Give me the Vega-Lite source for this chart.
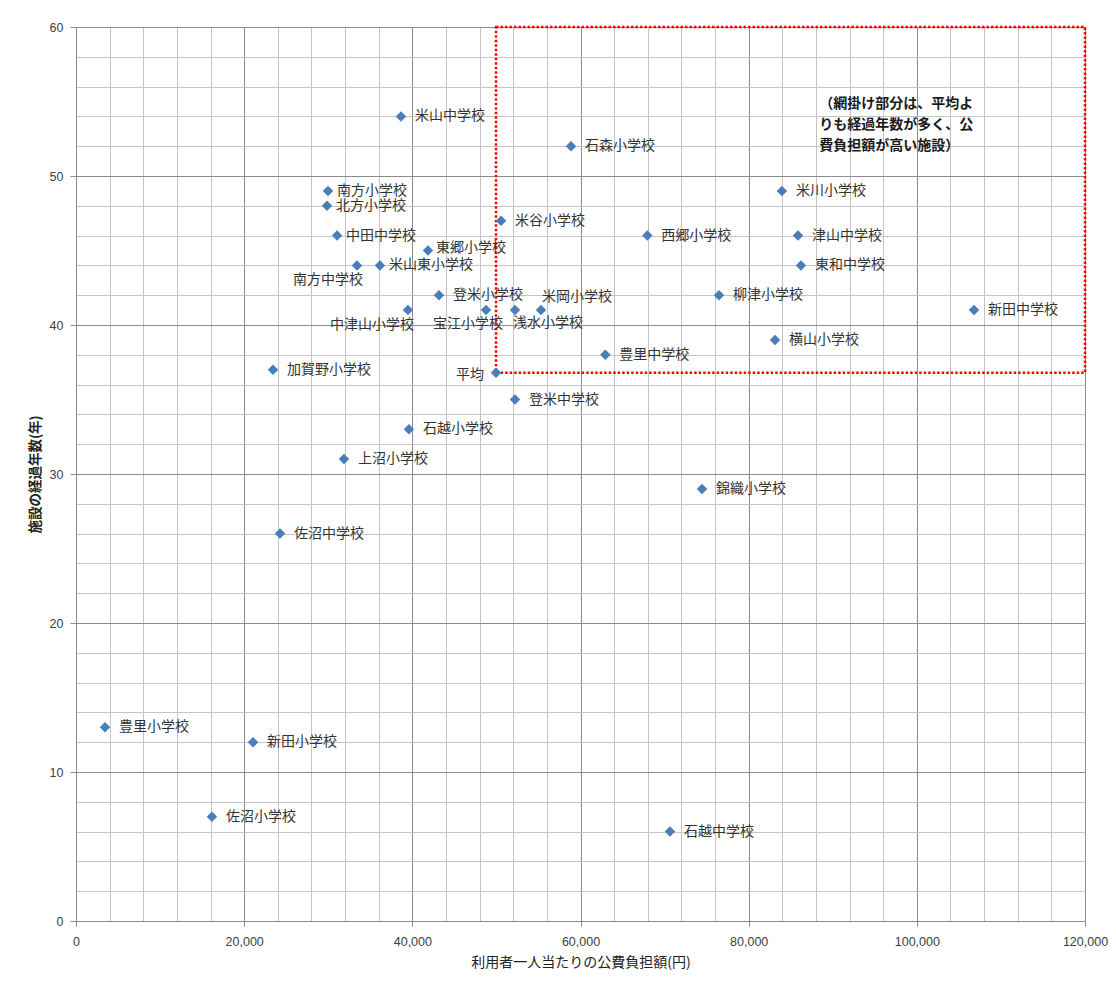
{
  "$schema": "https://vega.github.io/schema/vega-lite/v6.json",
  "width": 1009,
  "height": 894,
  "autosize": {"type": "none"},
  "padding": {"left": 76, "top": 27, "right": 31, "bottom": 64},
  "background": "white",
  "config": {
    "view": {"stroke": null},
    "font": "Noto Sans CJK JP",
    "text": {"font": "Noto Sans CJK JP", "fontSize": 14, "color": "#333333", "baseline": "middle"}
  },
  "datasets": {
    "schools": [
      {"name": "米山中学校", "cost": 38650, "years": 54},
      {"name": "石森小学校", "cost": 58870, "years": 52},
      {"name": "南方小学校", "cost": 29970, "years": 49},
      {"name": "北方小学校", "cost": 29850, "years": 48},
      {"name": "米谷小学校", "cost": 50550, "years": 47},
      {"name": "中田中学校", "cost": 31050, "years": 46},
      {"name": "東郷小学校", "cost": 41860, "years": 45},
      {"name": "南方中学校", "cost": 33420, "years": 44},
      {"name": "米山東小学校", "cost": 36150, "years": 44},
      {"name": "登米小学校", "cost": 43170, "years": 42},
      {"name": "中津山小学校", "cost": 39480, "years": 41},
      {"name": "宝江小学校", "cost": 48760, "years": 41},
      {"name": "浅水小学校", "cost": 52210, "years": 41},
      {"name": "米岡小学校", "cost": 55300, "years": 41},
      {"name": "西郷小学校", "cost": 67950, "years": 46},
      {"name": "米川小学校", "cost": 83950, "years": 49},
      {"name": "津山中学校", "cost": 85870, "years": 46},
      {"name": "東和中学校", "cost": 86220, "years": 44},
      {"name": "柳津小学校", "cost": 76470, "years": 42},
      {"name": "新田中学校", "cost": 106800, "years": 41},
      {"name": "横山小学校", "cost": 83130, "years": 39},
      {"name": "豊里中学校", "cost": 62950, "years": 38},
      {"name": "加賀野小学校", "cost": 23430, "years": 37},
      {"name": "登米中学校", "cost": 52210, "years": 35},
      {"name": "石越小学校", "cost": 39600, "years": 33},
      {"name": "上沼小学校", "cost": 31870, "years": 31},
      {"name": "錦織小学校", "cost": 74450, "years": 29},
      {"name": "佐沼中学校", "cost": 24260, "years": 26},
      {"name": "豊里小学校", "cost": 3450, "years": 13},
      {"name": "新田小学校", "cost": 21050, "years": 12},
      {"name": "佐沼小学校", "cost": 16170, "years": 7},
      {"name": "石越中学校", "cost": 70640, "years": 6},
      {"name": "平均", "cost": 49950, "years": 36.8}
    ],
    "note": [
      {"text": "（網掛け部分は、平均よ\nりも経過年数が多く、公\n費負担額が高い施設）"}
    ]
  },
  "data": {"name": "schools"},
  "resolve": {"axis": {"x": "independent", "y": "independent"}},
  "layer": [
    {
      "transform": [{"filter": "datum.name == '平均'"}],
      "mark": {"type": "rect", "fill": "transparent", "stroke": "#FF0000", "strokeWidth": 2.5, "strokeDash": [2.5, 2]},
      "encoding": {
        "x": {
          "field": "cost", "type": "quantitative",
          "scale": {"domain": [0, 120000], "nice": false, "zero": true},
          "axis": {
            "orient": "bottom",
            "values": [0, 4000, 8000, 12000, 16000, 20000, 24000, 28000, 32000, 36000, 40000, 44000, 48000, 52000, 56000, 60000, 64000, 68000, 72000, 76000, 80000, 84000, 88000, 92000, 96000, 100000, 104000, 108000, 112000, 116000, 120000],
            "grid": true, "gridColor": "#c4c4c4", "gridWidth": 1,
            "labels": false, "ticks": false, "domain": false, "title": null
          }
        },
        "x2": {"datum": 120000},
        "y": {
          "field": "years", "type": "quantitative",
          "scale": {"domain": [0, 60], "nice": false},
          "axis": {
            "orient": "left",
            "values": [0, 2, 4, 6, 8, 10, 12, 14, 16, 18, 20, 22, 24, 26, 28, 30, 32, 34, 36, 38, 40, 42, 44, 46, 48, 50, 52, 54, 56, 58, 60],
            "grid": true, "gridColor": "#c4c4c4", "gridWidth": 1,
            "labels": false, "ticks": false, "domain": false, "title": null
          }
        },
        "y2": {"datum": 60}
      }
    },
    {
      "mark": {"type": "point", "shape": "diamond", "filled": true, "color": "#4A7EBB", "opacity": 1, "size": 110},
      "encoding": {
        "x": {
          "field": "cost", "type": "quantitative",
          "axis": {
            "orient": "bottom",
            "values": [0, 20000, 40000, 60000, 80000, 100000, 120000],
            "labelExpr": "format(datum.value, ',')",
            "grid": true, "gridColor": "#8c8c8c", "gridWidth": 1,
            "domainColor": "#8c8c8c", "tickColor": "#8c8c8c", "tickSize": 5,
            "labelPadding": 9, "labelFlush": false, "labelOverlap": false,
            "labelFont": "Liberation Sans", "labelFontSize": 12.5, "labelColor": "#404040",
            "title": "利用者一人当たりの公費負担額(円)",
            "titleFont": "Noto Sans CJK JP", "titleFontSize": 14, "titleFontWeight": "normal",
            "titleColor": "#222222", "titlePadding": 8
          }
        },
        "y": {
          "field": "years", "type": "quantitative",
          "axis": {
            "orient": "left",
            "values": [0, 10, 20, 30, 40, 50, 60],
            "grid": true, "gridColor": "#8c8c8c", "gridWidth": 1,
            "domainColor": "#8c8c8c", "tickColor": "#8c8c8c", "tickSize": 6,
            "labelPadding": 7, "labelOverlap": false,
            "labelFont": "Liberation Sans", "labelFontSize": 12.5, "labelColor": "#404040",
            "title": "施設の経過年数(年)",
            "titleFont": "Noto Sans CJK JP", "titleFontSize": 13.5, "titleFontWeight": "bold",
            "titleColor": "#222222", "titlePadding": 7
          }
        }
      }
    },
    {
      "transform": [{"filter": {"not": {"field": "name", "oneOf": ["南方小学校", "北方小学校", "中田中学校", "東郷小学校", "米山東小学校", "南方中学校", "中津山小学校", "宝江小学校", "浅水小学校", "米岡小学校", "平均"]}}}],
      "mark": {"type": "text", "align": "left", "dx": 14},
      "encoding": {
        "x": {"field": "cost", "type": "quantitative", "axis": null},
        "y": {"field": "years", "type": "quantitative", "axis": null},
        "text": {"field": "name"}
      }
    },
    {
      "transform": [{"filter": {"field": "name", "oneOf": ["南方小学校", "北方小学校", "中田中学校", "米山東小学校"]}}],
      "mark": {"type": "text", "align": "left", "dx": 9},
      "encoding": {
        "x": {"field": "cost", "type": "quantitative", "axis": null},
        "y": {"field": "years", "type": "quantitative", "axis": null},
        "text": {"field": "name"}
      }
    },
    {
      "transform": [{"filter": "datum.name == '東郷小学校'"}],
      "mark": {"type": "text", "align": "left", "dx": 8, "dy": -3},
      "encoding": {
        "x": {"field": "cost", "type": "quantitative", "axis": null},
        "y": {"field": "years", "type": "quantitative", "axis": null},
        "text": {"field": "name"}
      }
    },
    {
      "transform": [{"filter": {"field": "name", "oneOf": ["南方中学校", "中津山小学校"]}}],
      "mark": {"type": "text", "align": "right", "dx": 6, "dy": 15},
      "encoding": {
        "x": {"field": "cost", "type": "quantitative", "axis": null},
        "y": {"field": "years", "type": "quantitative", "axis": null},
        "text": {"field": "name"}
      }
    },
    {
      "transform": [{"filter": "datum.name == '宝江小学校'"}],
      "mark": {"type": "text", "align": "center", "dx": -18, "dy": 14},
      "encoding": {
        "x": {"field": "cost", "type": "quantitative", "axis": null},
        "y": {"field": "years", "type": "quantitative", "axis": null},
        "text": {"field": "name"}
      }
    },
    {
      "transform": [{"filter": "datum.name == '浅水小学校'"}],
      "mark": {"type": "text", "align": "center", "dx": 33, "dy": 13},
      "encoding": {
        "x": {"field": "cost", "type": "quantitative", "axis": null},
        "y": {"field": "years", "type": "quantitative", "axis": null},
        "text": {"field": "name"}
      }
    },
    {
      "transform": [{"filter": "datum.name == '米岡小学校'"}],
      "mark": {"type": "text", "align": "center", "dx": 36, "dy": -13},
      "encoding": {
        "x": {"field": "cost", "type": "quantitative", "axis": null},
        "y": {"field": "years", "type": "quantitative", "axis": null},
        "text": {"field": "name"}
      }
    },
    {
      "transform": [{"filter": "datum.name == '平均'"}],
      "mark": {"type": "text", "align": "right", "dx": -12, "dy": 2},
      "encoding": {
        "x": {"field": "cost", "type": "quantitative", "axis": null},
        "y": {"field": "years", "type": "quantitative", "axis": null},
        "text": {"field": "name"}
      }
    },
    {
      "data": {"name": "note"},
      "mark": {"type": "text", "align": "left", "baseline": "middle", "fontSize": 14, "fontWeight": "bold", "color": "#1a1a1a", "lineBreak": "\n", "lineHeight": 21},
      "encoding": {
        "x": {"datum": 88400, "type": "quantitative", "axis": null},
        "y": {"datum": 54.84, "type": "quantitative", "axis": null},
        "text": {"field": "text"}
      }
    }
  ]
}
